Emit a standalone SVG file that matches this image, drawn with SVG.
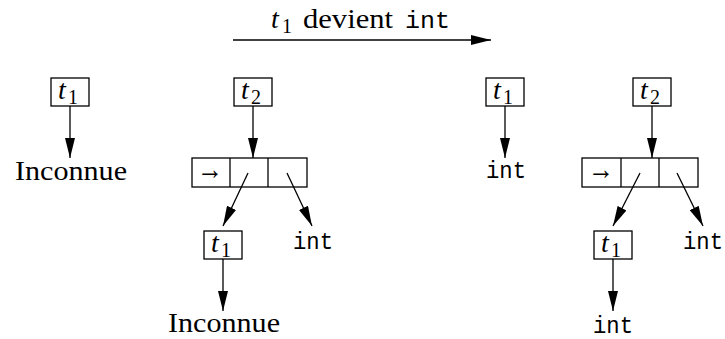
<svg xmlns="http://www.w3.org/2000/svg" width="725" height="339" viewBox="0 0 725 339">
<style>
.box{fill:none;stroke:#000;stroke-width:1.3}
.ln{fill:none;stroke:#000;stroke-width:1.3;marker-end:url(#ah)}
.rm{font-family:'Liberation Serif','DejaVu Serif','Times New Roman',serif;font-size:28px;fill:#000}
.it{font-family:'Liberation Serif','DejaVu Serif','Times New Roman',serif;font-style:italic;font-size:28px;fill:#000}
.sb{font-family:'Liberation Serif','DejaVu Serif','Times New Roman',serif;font-size:20px;fill:#000}
.tt{font-family:'Liberation Mono','DejaVu Sans Mono','Courier New',monospace;font-size:24px;fill:#000}
.ar{font-family:'Liberation Serif','DejaVu Serif',serif;font-size:30px;fill:#000}
</style>
<defs>
<marker id="ah" markerUnits="userSpaceOnUse" markerWidth="20" markerHeight="10" refX="20" refY="5" orient="auto">
<path d="M0,0 L20,5 L0,10 z" fill="#000"/>
</marker>
</defs>
<g id="connectors">
<line class="ln" x1="233" y1="40" x2="491" y2="40"/>
<line class="ln" x1="70" y1="106" x2="70" y2="158"/>
<line class="ln" x1="253" y1="106" x2="253" y2="158"/>
<line class="ln" x1="248" y1="173" x2="223" y2="226"/>
<line class="ln" x1="287" y1="173" x2="312" y2="226"/>
<line class="ln" x1="223" y1="259" x2="223" y2="311"/>
<line class="ln" x1="505" y1="106" x2="505" y2="158"/>
<line class="ln" x1="652" y1="106" x2="652" y2="158"/>
<line class="ln" x1="640" y1="173" x2="613" y2="226"/>
<line class="ln" x1="677" y1="173" x2="703" y2="226"/>
<line class="ln" x1="613" y1="259" x2="613" y2="311"/>
</g>
<g id="title">
<text class="it" x="271" y="28">t</text><text class="sb" x="282" y="33">1</text>
<text class="rm" x="303" y="28" textLength="90" lengthAdjust="spacingAndGlyphs">devient</text>
<text class="tt" x="405" y="28" textLength="45" lengthAdjust="spacingAndGlyphs">int</text>
</g>
<g id="a-t1">
<rect class="box" x="51" y="78" width="38" height="28"/>
<text class="it" x="58" y="99">t</text><text class="sb" x="68" y="104">1</text>
</g>
<g id="a-val">
<text class="rm" x="15" y="180" textLength="112" lengthAdjust="spacingAndGlyphs">Inconnue</text>
</g>
<g id="b-t2">
<rect class="box" x="234" y="78" width="38" height="28"/>
<text class="it" x="241" y="99">t</text><text class="sb" x="251" y="104">2</text>
</g>
<g id="b-cells">
<rect class="box" x="192" y="158" width="115" height="29"/>
<line class="box" x1="230" y1="158" x2="230" y2="187"/>
<line class="box" x1="268" y1="158" x2="268" y2="187"/>
<text class="ar" x="197" y="179" textLength="26" lengthAdjust="spacingAndGlyphs">→</text>
</g>
<g id="b-t1">
<rect class="box" x="204" y="231" width="38" height="28"/>
<text class="it" x="211" y="252">t</text><text class="sb" x="221" y="257">1</text>
</g>
<g id="b-val">
<text class="rm" x="168" y="332" textLength="112" lengthAdjust="spacingAndGlyphs">Inconnue</text>
</g>
<g id="b-int">
<text class="tt" x="293" y="249" textLength="40" lengthAdjust="spacingAndGlyphs">int</text>
</g>
<g id="c-t1">
<rect class="box" x="486" y="78" width="38" height="28"/>
<text class="it" x="493" y="99">t</text><text class="sb" x="503" y="104">1</text>
</g>
<g id="c-val">
<text class="tt" x="486" y="178" textLength="40" lengthAdjust="spacingAndGlyphs">int</text>
</g>
<g id="d-t2">
<rect class="box" x="633" y="78" width="38" height="28"/>
<text class="it" x="640" y="99">t</text><text class="sb" x="650" y="104">2</text>
</g>
<g id="d-cells">
<rect class="box" x="582" y="158" width="116" height="29"/>
<line class="box" x1="621" y1="158" x2="621" y2="187"/>
<line class="box" x1="659" y1="158" x2="659" y2="187"/>
<text class="ar" x="588" y="179" textLength="26" lengthAdjust="spacingAndGlyphs">→</text>
</g>
<g id="d-t1">
<rect class="box" x="594" y="231" width="38" height="28"/>
<text class="it" x="601" y="252">t</text><text class="sb" x="611" y="257">1</text>
</g>
<g id="d-val">
<text class="tt" x="593" y="333" textLength="40" lengthAdjust="spacingAndGlyphs">int</text>
</g>
<g id="d-int">
<text class="tt" x="683" y="249" textLength="40" lengthAdjust="spacingAndGlyphs">int</text>
</g>
</svg>
